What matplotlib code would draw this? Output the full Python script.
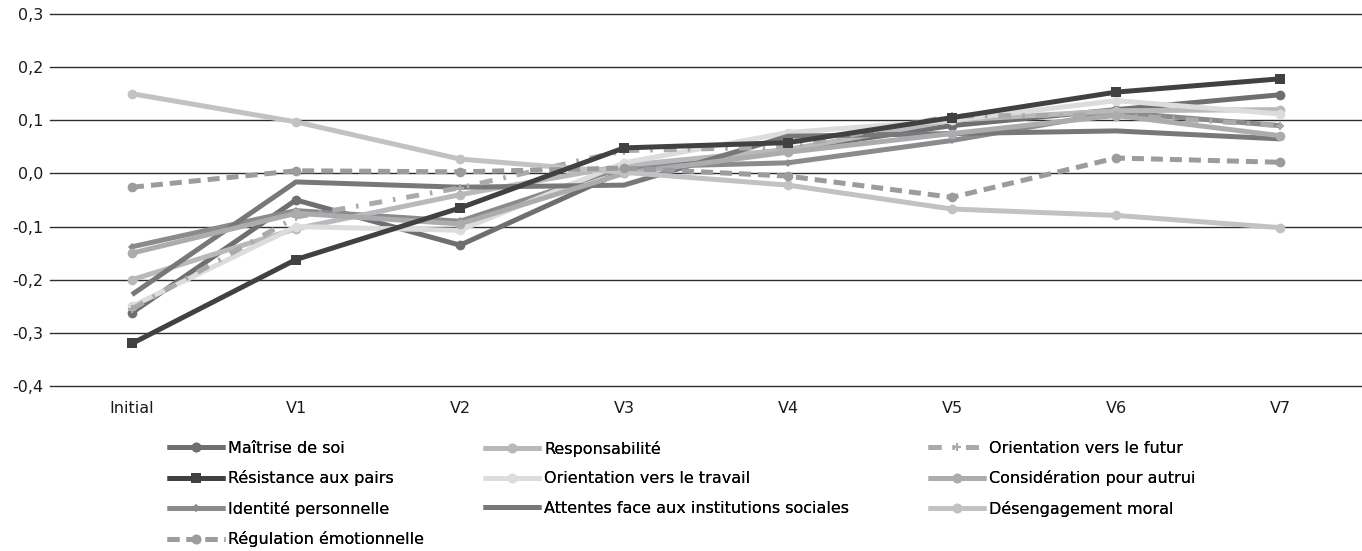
import matplotlib.pyplot as plt
from matplotlib.ticker import FuncFormatter

plt.rcParams['font.family'] = ['DejaVu Sans']

# Data
categories = ['Initial', 'V1', 'V2', 'V3', 'V4', 'V5', 'V6', 'V7']

maitrise = [-0.262, -0.050, -0.135, 0.005, 0.045, 0.090, 0.120, 0.148]
resistance = [-0.320, -0.162, -0.065, 0.048, 0.058, 0.105, 0.153, 0.178]
identite = [-0.138, -0.070, -0.090, 0.012, 0.020, 0.062, 0.115, 0.090]
regulation = [-0.026, 0.005, 0.003, 0.010, -0.005, -0.045, 0.029, 0.021]
responsabilite = [-0.200, -0.104, -0.040, 0.015, 0.045, 0.100, 0.118, 0.120]
travail = [-0.250, -0.100, -0.107, 0.020, 0.077, 0.100, 0.137, 0.112]
attentes = [-0.228, -0.016, -0.026, -0.022, 0.070, 0.075, 0.080, 0.065]
futur = [-0.255, -0.082, -0.027, 0.043, 0.050, 0.108, 0.110, 0.090]
consideration = [-0.150, -0.075, -0.095, 0.000, 0.040, 0.075, 0.109, 0.071]
desengagement = [0.150, 0.097, 0.027, 0.002, -0.022, -0.067, -0.079, -0.102]

W, H = 1362, 551
fig = plt.figure(figsize=(W / 100, H / 100), dpi=100)
ax = fig.add_axes([50 / W, 1 - 386 / H, 1 - 50 / W, (386 - 14) / H])

x = range(len(categories))
lw = 3.6
fs = 11.5

# (label, values, color, marker, markersize, linestyle)
series = [
    ('Maîtrise de soi', maitrise, '#6f6f71', 'o', 7, '-'),
    ('Résistance aux pairs', resistance, '#414142', 's', 6.5, '-'),
    ('Identité personnelle', identite, '#8b8b8d', 'D', 4, '-'),
    ('Régulation émotionnelle', regulation, '#9c9c9e', 'o', 7, (0, (2.4, 1.4))),
    ('Responsabilité', responsabilite, '#b9b9bb', 'o', 7, '-'),
    ('Orientation vers le travail', travail, '#dcdcdd', 'o', 7, '-'),
    ('Attentes face aux institutions sociales', attentes, '#78787a', None, 0, '-'),
    ('Orientation vers le futur', futur, '#aaaaac', '+', 6, (0, (2.6, 2.2, 0.5, 2.2))),
    ('Considération pour autrui', consideration, '#acacae', 'o', 7, '-'),
    ('Désengagement moral', desengagement, '#c2c2c4', 'o', 7, '-'),
]

handles = {}
for label, vals, color, marker, ms, ls in series:
    line, = ax.plot(x, vals, color=color, lw=lw, ls=ls, marker=marker,
                    markersize=ms, markeredgewidth=1.5 if marker == '+' else 0,
                    solid_capstyle='butt', label=label)
    handles[label] = line

# darkest line on top like in the original
handles['Résistance aux pairs'].set_zorder(5)
handles['Régulation émotionnelle'].set_zorder(4)

ax.set_xlim(-0.5, len(categories) - 0.5)
ax.set_ylim(-0.4, 0.3)
ax.set_yticks([-0.4, -0.3, -0.2, -0.1, 0.0, 0.1, 0.2, 0.3])
ax.yaxis.set_major_formatter(FuncFormatter(lambda v, p: f'{v:.1f}'.replace('.', ',').replace('-0,0', '0,0')))
ax.set_xticks(list(x))
ax.set_xticklabels(categories)
ax.grid(axis='y', color='#2e2e2e', lw=1.0, zorder=0)
for gl in ax.get_ygridlines():
    gl.set_clip_on(False)
ax.set_axisbelow(True)
for s in ax.spines.values():
    s.set_visible(False)
ax.tick_params(length=0, labelsize=fs, colors='#1a1a1a', pad=5)
ax.tick_params(axis='x', pad=11)

# legend in three columns, placed one by one
columns = [
    (167, ['Maîtrise de soi', 'Résistance aux pairs', 'Identité personnelle', 'Régulation émotionnelle']),
    (483, ['Responsabilité', 'Orientation vers le travail', 'Attentes face aux institutions sociales']),
    (928, ['Orientation vers le futur', 'Considération pour autrui', 'Désengagement moral']),
]
for left, labels in columns:
    leg = fig.legend([handles[k] for k in labels], labels, loc='upper left',
                     bbox_to_anchor=(left / W, 1 - 441 / H), frameon=False, fontsize=fs,
                     handlelength=3.6, handletextpad=0.25, labelspacing=0.9,
                     borderaxespad=0, borderpad=0)
    fig.add_artist(leg)

fig.savefig('out.png', dpi=100)
